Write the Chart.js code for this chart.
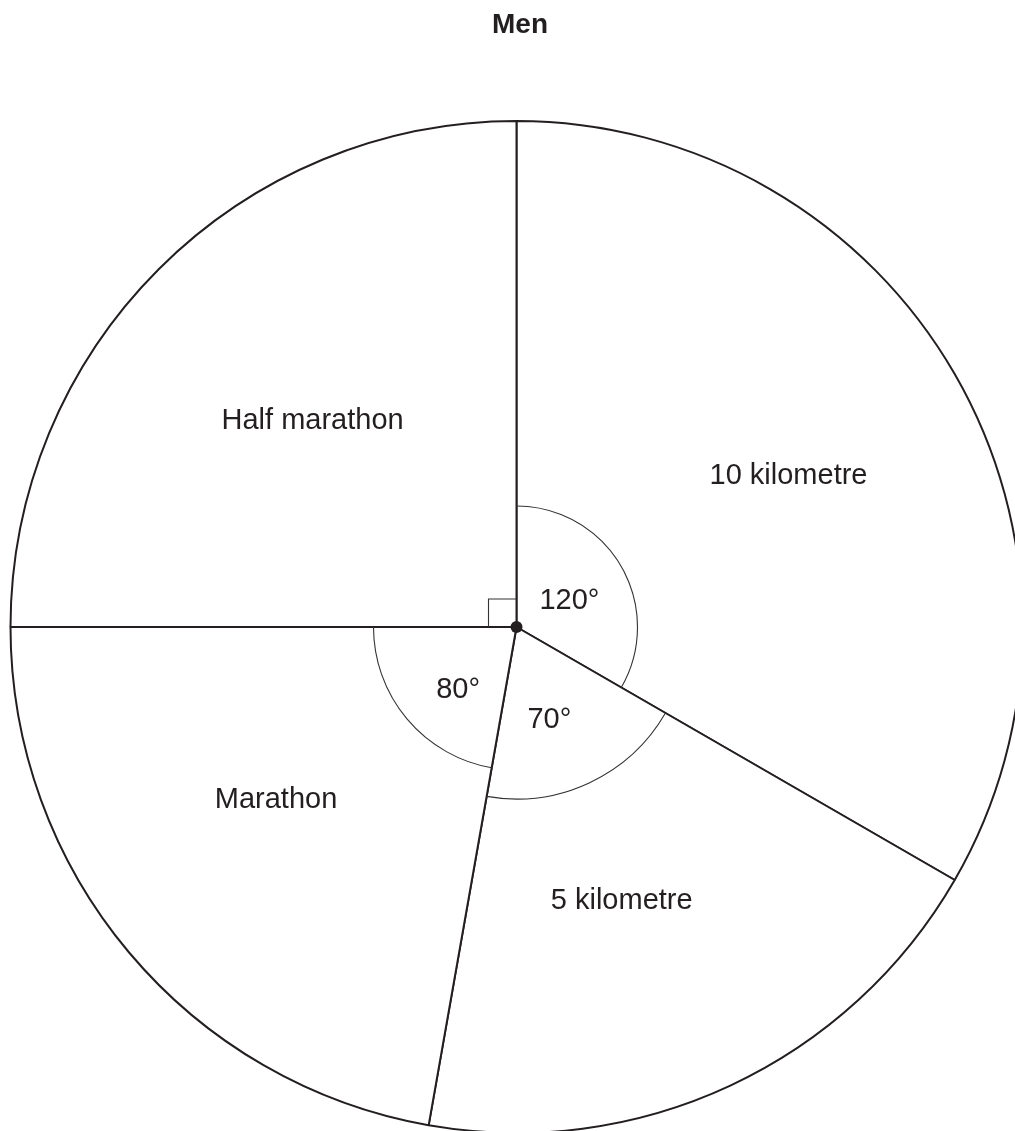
<!DOCTYPE html>
<html>
<head>
<meta charset="utf-8">
<script src="https://cdn.jsdelivr.net/npm/chart.js@4/dist/chart.umd.min.js"></script>
<style>
  html, body { margin: 0; padding: 0; background: #fff; overflow: hidden; }
  #wrap { position: absolute; left: 0; top: 0; width: 1033px; height: 1133px; }
</style>
</head>
<body>
<div id="wrap"><canvas id="pie" width="1033" height="1133"></canvas></div>
<script>
// clockwise from 12 o'clock
const events = ['10 kilometre', '5 kilometre', 'Marathon', 'Half marathon']
const angles = [120, 70, 80, 90]
const chartTitle = 'Men'

// where each slice label sits: fraction of radius, degrees off the slice middle
const labelPlace = [[0.617, 0.6], [0.575, 3.8], [0.583, 4.6], [0.577, 0.7]]
// angle markers: arc radius (0 = right angle box), label distance, label offset (deg)
const markers = [[121, 60, 2], [172, 96, 5], [143, 84, -6], [0, 0, 0]]

const ink = '#231f20'
const font = '"Liberation Sans", Arial, Helvetica, sans-serif'

const annotate = {
  id: 'annotate',
  afterDatasetsDraw(chart) {
    const ctx = chart.ctx
    const arcs = chart.getDatasetMeta(0).data
    ctx.save()
    ctx.strokeStyle = ink
    ctx.fillStyle = ink

    arcs.forEach((arc, i) => {
      const { x, y, startAngle, endAngle, outerRadius } = arc.getProps(['x', 'y', 'startAngle', 'endAngle', 'outerRadius'], true)
      const mid = (startAngle + endAngle) / 2
      const m = markers[i]

      // angle marker
      ctx.lineWidth = 1.1
      ctx.strokeStyle = '#333'
      if (m[0] > 0) {
        ctx.beginPath()
        ctx.arc(x, y, m[0], startAngle, endAngle)
        ctx.stroke()
        const a = mid + m[2] * Math.PI / 180
        ctx.font = '29px ' + font
        ctx.textAlign = 'center'
        ctx.textBaseline = 'alphabetic'
        ctx.fillText(angles[i] + '°', x + Math.cos(a) * m[1], y + Math.sin(a) * m[1] + 10.5)
      } else {
        const s = 28
        ctx.beginPath()
        ctx.moveTo(x, y - s)
        ctx.lineTo(x - s, y - s)
        ctx.lineTo(x - s, y)
        ctx.stroke()
      }

      // slice label
      const p = labelPlace[i]
      const la = mid + p[1] * Math.PI / 180
      ctx.font = '29px ' + font
      ctx.textAlign = 'center'
      ctx.textBaseline = 'alphabetic'
      ctx.fillText(events[i], x + Math.cos(la) * outerRadius * p[0], y + Math.sin(la) * outerRadius * p[0] + 10.5)
    })

    // centre dot
    const c = arcs[0]
    ctx.beginPath()
    ctx.arc(c.x, c.y, 6, 0, Math.PI * 2)
    ctx.fillStyle = ink
    ctx.fill()

    // title
    ctx.font = 'bold 28px ' + font
    ctx.textAlign = 'center'
    ctx.textBaseline = 'alphabetic'
    ctx.fillText(chartTitle, 520, 33)
    ctx.restore()
  }
}

new Chart(document.getElementById('pie'), {
  type: 'pie',
  data: {
    labels: events,
    datasets: [{
      data: angles,
      backgroundColor: '#ffffff',
      borderColor: ink,
      borderWidth: 2
    }]
  },
  options: {
    responsive: false,
    animation: false,
    radius: 506,
    layout: { padding: { top: 121, left: 0, right: 0, bottom: 0 } },
    plugins: {
      legend: { display: false },
      tooltip: { enabled: false },
      title: { display: false }
    }
  },
  plugins: [annotate]
})
</script>
</body>
</html>
